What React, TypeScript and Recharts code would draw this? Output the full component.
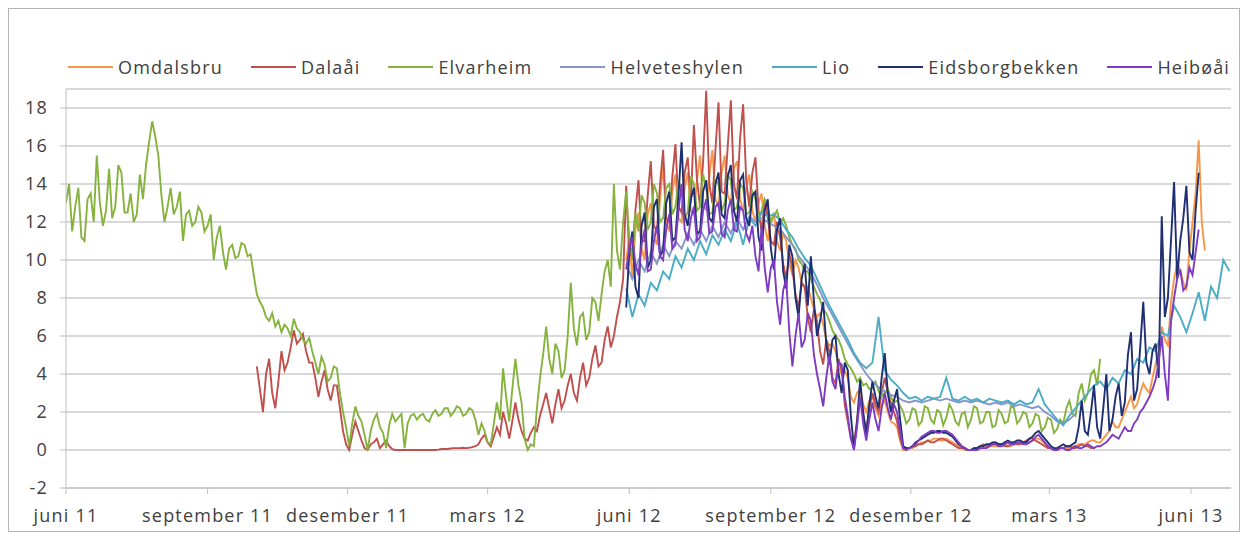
import React from "react";
import { CartesianGrid, Line, LineChart, XAxis, YAxis } from "recharts";

// day 0 = 1 June 2011
const X_MAX_DAY = 757;
const ROW_STEP = 2;
const TICK_DAYS = [0, 92, 183, 274, 366, 458, 549, 639, 731];
const TICK_LABELS = [
  "juni 11",
  "september 11",
  "desember 11",
  "mars 12",
  "juni 12",
  "september 12",
  "desember 12",
  "mars 13",
  "juni 13",
];
const Y_TICKS = [-2, 0, 2, 4, 6, 8, 10, 12, 14, 16, 18];

// values every 2 days from day 364
const omdalsbru = [
  10, 11.2, 9, 11.6, 12.5, 10.6, 10, 12.4, 13, 11.2, 10.8, 13.2, 15, 12.0, 11.5, 13.6, 14.5, 12.2,
  12, 13.8, 14.6, 12.6, 12.4, 14.2, 15.5, 13.0, 12.6, 14.4, 15.8, 13.2, 12.8, 14.6, 15.5, 13.4, 13, 14.8, 15.2, 13.2,
  12.6, 13.8, 14.5, 12.6, 12, 13.0, 13.5, 11.8, 11, 12.0, 12.5, 11.0, 10.5, 11.4, 11, 9.8, 9.2, 10.0, 9.6, 8.8,
  8.5, 8.6, 8, 7.4, 7, 7.2, 6.6, 5.8, 5.5, 5.6, 5.2, 4.4, 4.0, 4.2, 3.8, 2.8, 2.5, 3.0, 3.2, 2.4,
  2.0, 2.6, 2.8, 2.2, 1.8, 2.4, 2.6, 2.0, 1.5, 1.4, 1.2, 0.5, 0.0, 0.0, 0.1, 0.1, 0.2, 0.3, 0.4, 0.4,
  0.5, 0.5, 0.6, 0.6, 0.5, 0.5, 0.6, 0.5, 0.4, 0.3, 0.2, 0.1, 0.0, 0.0, 0.0, 0.0, 0.1, 0.1, 0.1, 0.1,
  0.2, 0.2, 0.2, 0.2, 0.3, 0.3, 0.2, 0.2, 0.3, 0.3, 0.4, 0.4, 0.3, 0.4, 0.5, 0.6, 0.6, 0.5, 0.3, 0.2,
  0.1, 0.0, 0.0, 0.1, 0.1, 0.1, 0.1, 0.2, 0.2, 0.3, 0.3, 0.3, 0.4, 0.5, 0.5, 0.4, 0.4, 0.6, 0.8, 1.0,
  1.5, 1.2, 1.2, 1.6, 2.0, 2.4, 2.8, 2.2, 2.4, 3.0, 3.5, 3.2, 3.0, 3.8, 4.5, 5.2, 6.5, 5.8, 5.5, 7.8,
  9.0, 9.8, 9.5, 8.8, 8.5, 10.5, 12.0, 13.5, 16.3, 12.0, 10.5,
];

// values every 2 days from day 124
const dalaai = [
  4.4, 3.2, 2.0, 4.0, 4.8, 3.0, 2.2, 3.6, 5.2, 4.2, 4.6, 5.4, 6.3, 5.6, 5.8, 6.1, 5.2, 4.6,
  4.6, 3.8, 2.8, 3.6, 4.2, 3.2, 2.6, 3.4, 3.4, 2.2, 1.0, 0.3, 0, 0.8, 1.5, 1.0, 0.5, 0.1, 0, 0.3,
  0.4, 0.6, 0.1, 0.3, 0.5, 0.2, 0.05, 0, 0, 0, 0, 0, 0, 0, 0, 0, 0, 0, 0, 0,
  0, 0.02, 0.05, 0.05, 0.05, 0.08, 0.1, 0.1, 0.1, 0.12, 0.1, 0.12, 0.15, 0.2, 0.3, 0.6, 0.8, 0.4, 0.2, 0.7,
  1.2, 0.8, 2.0, 1.4, 0.6, 1.5, 2.5, 1.6, 1.0, 0.6, 0.5, 0.9, 1.2, 1.0, 1.8, 2.4, 3.0, 2.2, 1.4, 2.4,
  3.2, 2.2, 2.6, 3.4, 4.0, 3.0, 2.6, 3.8, 4.6, 3.4, 3.8, 4.8, 5.5, 4.4, 4.6, 5.8, 6.5, 5.4, 6.0, 7.0,
  7.8, 9.0, 13.9, 10.2, 10.5, 12.6, 14.2, 11.0, 11, 13.4, 15.2, 11.8, 11.5, 14.0, 15.8, 12.2, 12, 14.4, 16.1, 12.8,
  12.5, 14.6, 15.4, 13.0, 17.1, 14.2, 12.8, 15.2, 18.9, 14.0, 13, 15.8, 18.3, 13.6, 13.5, 16.0, 18.4, 14.0, 13.2, 16.4,
  18.2, 14.2, 12.8, 14.6, 15.4, 12.6, 11.5, 13.2, 12.2, 11.0, 10.8, 12.0, 11.2, 9.8, 9, 10.4, 9.5, 8.2, 7.5, 8.8,
  8.6, 7.0, 6.2, 7.4, 6.8, 5.2, 4.5, 5.8, 5.2, 3.8, 3.5, 4.8, 4.2, 2.4, 1.5, 0.6, 0.3, 1.6, 2.8, 1.8,
  1.0, 2.2, 3.0, 2.4, 2.0, 3.0, 3.8, 3.0, 2.5, 2.0, 1.5, 0.6, 0.1, 0.1, 0.1, 0.2, 0.2, 0.3, 0.3, 0.4,
  0.5, 0.4, 0.4, 0.5, 0.6, 0.6, 0.5, 0.4, 0.3, 0.2, 0.1, 0.1, 0.1, 0.0, 0.0, 0.1, 0.1, 0.2, 0.3, 0.2,
  0.2, 0.3, 0.4, 0.3, 0.3, 0.2, 0.2, 0.3, 0.4, 0.3, 0.3, 0.4, 0.5, 0.6, 0.6, 0.5, 0.4, 0.3, 0.2, 0.1,
  0.1, 0.0, 0.0, 0.1, 0.1, 0.2, 0.2, 0.1, 0.1, 0.2, 0.3, 0.2, 0.2, 0.1, 0.1,
];

// values every 2 days from day 0
const elvarheim = [
  13, 14, 11.5, 12.8, 13.8, 11.2, 11, 13.2, 13.5, 12, 15.5, 13, 11.8, 12.6, 14.8, 12.2, 12.8, 15, 14.6, 12.5,
  12.5, 13.5, 12, 12.4, 14.5, 13.2, 15, 16.2, 17.3, 16.5, 15.5, 13.4, 12, 12.8, 13.8, 12.4, 12.8, 13.6, 11, 12.4,
  12.6, 11.8, 12, 12.8, 12.5, 11.5, 11.8, 12.4, 10, 11.2, 11.8, 10.4, 9.5, 10.6, 10.8, 10.1, 10.2, 10.9, 10.8, 10.2,
  10.3, 9.2, 8.2, 7.8, 7.5, 7.0, 6.8, 7.2, 6.5, 6.8, 6.2, 6.6, 6.4, 6.0, 6.9, 6.4, 6.2, 5.8, 5.6, 5.9,
  5.2, 4.6, 4, 4.9, 4.5, 3.6, 3.8, 4.4, 4.3, 3.0, 2, 1.2, 0.2, 1.4, 2.3, 1.8, 1.5, 0.8, 0, 1.0,
  1.6, 1.9, 1.2, 0.9, 0.1, 1.3, 1.9, 1.5, 1.7, 1.9, 0.1, 1.4, 1.8, 1.9, 1.6, 1.8, 1.9, 1.6, 1.5, 1.9,
  2.1, 1.8, 1.9, 2.2, 2.2, 1.8, 2, 2.3, 2.2, 1.8, 1.9, 2.2, 2.1, 1.6, 0.8, 1.4, 1.0, 0.4, 0.3, 1.4,
  2.5, 1.6, 4.3, 2.8, 1.5, 3.2, 4.8, 3.4, 2.5, 0.6, 0, 0.3, 0.2, 2.2, 3.8, 5.0, 6.5, 4.8, 4, 5.6,
  5.2, 3.8, 4.2, 6.0, 8.8, 6.4, 5.5, 7.0, 7.2, 5.8, 6.2, 8.0, 7.8, 6.8, 8.2, 9.4, 10, 8.6, 14, 10.5,
  9.5, 12, 13.6, 11.2, 10, 12.5, 11.5, 13.4, 13, 11.6, 12, 14, 13.5, 12, 12.2, 13.8, 14, 12.4, 12.8, 14.2,
  13.6, 12.2, 12.5, 14.4, 14, 12.6, 12.8, 14.5, 13.8, 12.4, 12.5, 14.2, 14, 12.6, 13, 14.5, 14.2, 12.6, 12.8, 14,
  13.8, 12.4, 12.5, 13.6, 13.2, 12.2, 12.6, 13.2, 12.8, 12.0, 12.3, 12.6, 12, 12.2, 11.8, 11.2, 10.8, 10.6, 10, 9.8,
  9.4, 9.4, 9, 8.6, 8.2, 7.9, 7.4, 7.2, 6.8, 6.3, 6.0, 5.8, 5.4, 4.8, 4.5, 4.3, 4, 3.6, 3.8, 3.4,
  3.5, 3.2, 3.3, 3.6, 3.1, 2.8, 3, 3.2, 2.8, 2.5, 2.6, 2.3, 2.0, 1.4, 1.6, 2.2, 2.1, 1.3, 1.5, 2.3,
  2.2, 1.6, 1.4, 2.1, 2.0, 1.3, 1.7, 2.4, 2.1, 1.5, 1.3, 1.9, 2.0, 1.2, 1.6, 2.3, 2.2, 1.4, 1.5, 2.0,
  2.0, 1.2, 1.3, 2.1, 1.9, 1.4, 1.5, 2.3, 2.2, 1.4, 1.6, 2.0, 1.9, 1.2, 1.4, 1.9, 1.8, 1.0, 1.2, 1.7,
  1.6, 0.9, 1.1, 1.6, 1.4, 2.2, 2.6, 1.9, 1.8, 3.0, 3.5, 2.6, 3.0, 4.0, 4.2, 3.4, 4.8,
];

// values every 4 days from day 364
const helveteshylen = [
  9.8, 9.0, 10.0, 9.4, 10.4, 9.8, 10.8, 10.2, 11.0,
  10.6, 11.4, 10.8, 11.6, 11.0, 11.8, 11.2, 12.0, 11.4, 12.2,
  11.6, 12.3, 12.0, 12.2, 12.0, 11.8, 11.6, 11.2, 10.8, 10.2,
  9.8, 9.3, 8.7, 8.0, 7.4, 6.8, 6.2, 5.6, 5.0, 4.5,
  4.0, 3.6, 3.3, 3.1, 2.9, 2.8, 2.6, 2.5, 2.6, 2.5,
  2.6, 2.7, 2.6, 2.7, 2.6, 2.5, 2.6, 2.5, 2.6, 2.5,
  2.4, 2.5, 2.4, 2.5, 2.3, 2.4, 2.3, 2.2, 2.3, 2.0,
  1.8, 1.5, 1.4, 1.6, 1.9,
];

// values every 4 days from day 364
const lio = [
  8.5, 7.0, 8.2, 7.6, 8.8, 8.4, 9.4, 9.0, 10.2,
  9.6, 10.6, 10.0, 11, 10.3, 11.3, 10.8, 11.6, 11, 12,
  10.8, 12.2, 11.8, 12.5, 12.3, 12.4, 12.1, 11.6, 11.2, 10.6,
  10.1, 9.7, 9.0, 8.3, 7.6, 7.0, 6.4, 5.8, 5.1, 4.6,
  4.3, 4.6, 7.0, 4.2, 3.7, 3.4, 3.0, 2.7, 2.8, 2.6,
  2.8, 2.7, 2.8, 3.8, 2.7, 2.6, 2.8, 2.6, 2.7, 2.5,
  2.7, 2.6, 2.5, 2.6, 2.4, 2.6, 2.4, 2.5, 3.2, 2.4,
  2.0, 1.6, 1.3, 1.8, 2.2, 2.6, 3.0, 3.4, 3.6, 3.2,
  3.8, 3.5, 4.2, 4.0, 4.8, 4.6, 5.4, 5.2, 6.2, 6.0,
  7.6, 7.0, 6.2, 7.2, 8.3, 6.8, 8.6, 8.0, 10.0, 9.4,
];

// values every 2 days from day 364
const eidsborgbekken = [
  7.5, 10.4, 11.5, 8.6, 8, 11.8, 12.5, 9.6, 10, 12.8, 13.2, 10.2, 10.5, 13.0, 13.6, 11.0, 11.2, 13.4,
  16.2, 12.4, 11.8, 13.2, 13.8, 11.4, 11.5, 13.6, 14.2, 12.2, 12, 14.0, 14.6, 12.4, 12.2, 14.4, 15, 12.6, 12, 14.2,
  14.5, 12.2, 11.8, 13.4, 13.6, 11.2, 10.5, 12.6, 13.2, 10.6, 9.5, 11.6, 12.2, 9.4, 8.5, 10.8, 10.2, 8.0, 7.0, 9.0,
  9.8, 7.6, 10.2, 7.8, 6.0, 6.8, 7.8, 5.6, 4.5, 5.8, 6.0, 4.0, 3.0, 4.6, 4.2, 1.8, 0.1, 1.4, 3.7, 2.0,
  0.8, 2.4, 3.6, 2.8, 2.2, 3.8, 5.1, 3.0, 2.0, 2.6, 3.2, 1.6, 0.2, 0.1, 0.1, 0.2, 0.4, 0.5, 0.6, 0.7,
  0.8, 0.9, 0.9, 1.0, 1.0, 0.9, 0.9, 0.8, 0.7, 0.5, 0.3, 0.2, 0.1, 0.0, 0.0, 0.1, 0.1, 0.2, 0.2, 0.3,
  0.3, 0.4, 0.4, 0.3, 0.3, 0.4, 0.5, 0.4, 0.4, 0.5, 0.5, 0.4, 0.4, 0.6, 0.7, 0.9, 1.0, 0.8, 0.6, 0.4,
  0.2, 0.1, 0.1, 0.2, 0.3, 0.2, 0.2, 0.3, 0.4, 1.2, 2.6, 1.0, 0.8, 2.0, 3.4, 1.2, 0.6, 2.2, 4.0, 1.0,
  1.6, 2.8, 3.5, 1.8, 2.5, 5.0, 6.2, 2.6, 3.2, 5.4, 7.8, 4.6, 4.0, 5.2, 5.6, 3.8, 12.3, 7.0, 8, 11.0,
  14.1, 9.0, 11, 12.2, 13.9, 10.4, 10, 12.6, 14.6,
];

// values every 2 days from day 364
const heiboai = [
  9.5, 10.6, 11.2, 9.8, 9.2, 10.8, 11.6, 9.4, 9.5, 11.0, 11.8, 10.2, 10, 11.6, 12.4, 10.6, 10.8, 12.6,
  14, 11.6, 11, 12.2, 12.8, 11.0, 11.2, 12.6, 13.2, 11.4, 11.5, 12.8, 13, 11.4, 11.2, 12.6, 13.2, 11.6, 11.5, 12.8,
  12.6, 11.4, 11, 11.8, 10.2, 9.4, 11.8, 9.6, 8.3, 9.6, 10, 7.8, 6.6, 8.4, 9.0, 6.2, 4.4, 6.0, 7.2, 5.4,
  5.8, 7.2, 6.8, 5.0, 4.0, 3.2, 2.3, 3.8, 5.0, 3.6, 3.2, 4.6, 4.5, 2.8, 1.8, 0.6, 0.0, 1.2, 2.8, 1.4,
  0.5, 1.6, 2.5, 1.6, 1.0, 2.2, 3.0, 2.2, 1.6, 2.4, 2.0, 1.0, 0.1, 0.0, 0.1, 0.2, 0.3, 0.5, 0.7, 0.8,
  0.9, 1.0, 1.0, 0.9, 0.9, 1.0, 1.0, 0.9, 0.8, 0.6, 0.4, 0.2, 0.1, 0.0, 0.0, 0.0, 0.0, 0.1, 0.1, 0.1,
  0.2, 0.3, 0.3, 0.2, 0.2, 0.3, 0.4, 0.3, 0.3, 0.4, 0.4, 0.3, 0.3, 0.4, 0.5, 0.7, 0.8, 0.6, 0.4, 0.2,
  0.1, 0.0, 0.0, 0.1, 0.1, 0.0, 0.0, 0.1, 0.2, 0.1, 0.1, 0.2, 0.3, 0.2, 0.1, 0.2, 0.2, 0.3, 0.4, 0.6,
  0.8, 0.7, 0.6, 0.9, 1.2, 1.0, 1.0, 1.4, 1.6, 2.0, 2.2, 2.5, 2.8, 3.2, 3.7, 4.6, 6.0, 4.0, 2.6, 6.8,
  8.0, 9.0, 9.5, 8.4, 8.6, 9.6, 9.2, 10.4, 11.6,
];

const SERIES = [
  { key: "omdalsbru", name: "Omdalsbru", color: "#F79646", startDay: 364, step: 2, values: omdalsbru },
  { key: "dalaai", name: "Dalaåi", color: "#C0504D", startDay: 124, step: 2, values: dalaai },
  { key: "elvarheim", name: "Elvarheim", color: "#86B33E", startDay: 0, step: 2, values: elvarheim },
  { key: "helveteshylen", name: "Helveteshylen", color: "#8496CC", startDay: 364, step: 4, values: helveteshylen },
  { key: "lio", name: "Lio", color: "#4BACC6", startDay: 364, step: 4, values: lio },
  { key: "eidsborgbekken", name: "Eidsborgbekken", color: "#1F2F73", startDay: 364, step: 2, values: eidsborgbekken },
  { key: "heiboai", name: "Heibøåi", color: "#7D3CC1", startDay: 364, step: 2, values: heiboai },
];

const lastDay = Math.max(...SERIES.map((s) => s.startDay + (s.values.length - 1) * s.step));
const data: Record<string, number | null>[] = [];
for (let day = 0; day <= lastDay; day += ROW_STEP) {
  const row: Record<string, number | null> = { day };
  SERIES.forEach((s) => {
    const offset = day - s.startDay;
    const k = offset / s.step;
    row[s.key] = offset >= 0 && offset % s.step === 0 && k < s.values.length ? s.values[k] : null;
  });
  data.push(row);
}

const TEXT = "#404040";
const AXIS = "#bfbfbf";
const FONT_SIZE = 18;

function ChartLegend() {
  return (
    <div
      style={{
        position: "absolute",
        top: 48,
        left: 59,
        display: "flex",
        alignItems: "center",
        gap: 28,
        fontSize: FONT_SIZE,
        lineHeight: "20px",
        color: TEXT,
        whiteSpace: "nowrap",
      }}
    >
      {SERIES.map((s) => (
        <div key={s.key} style={{ display: "flex", alignItems: "center" }}>
          <span style={{ display: "inline-block", width: 45, borderTop: `2px solid ${s.color}`, marginRight: 5 }} />
          <span>{s.name}</span>
        </div>
      ))}
    </div>
  );
}

export default function App() {
  return (
    <div
      style={{
        position: "relative",
        width: 1230,
        height: 522,
        border: "1px solid #b3b3b3",
        background: "#fff",
        fontFamily: "'Open Sans', sans-serif",
        letterSpacing: "1.2px",
      }}
    >
      <ChartLegend />
      <LineChart width={1230} height={522} data={data} margin={{ top: 80, right: 8, bottom: 13, left: 0 }}>
        <CartesianGrid vertical={false} stroke="#cccccc" strokeWidth={1.5} />
        <XAxis
          dataKey="day"
          type="number"
          domain={[0, X_MAX_DAY]}
          allowDataOverflow
          ticks={TICK_DAYS}
          interval={0}
          tickFormatter={(v) => TICK_LABELS[TICK_DAYS.indexOf(v)] ?? ""}
          height={30}
          tickSize={6}
          tickMargin={15}
          stroke={AXIS}
          tick={{ fill: TEXT, fontSize: FONT_SIZE }}
        />
        <YAxis
          type="number"
          domain={[-2, 19]}
          allowDataOverflow
          ticks={Y_TICKS}
          interval={0}
          width={57}
          tickSize={6}
          tickMargin={12}
          stroke={AXIS}
          tick={{ fill: TEXT, fontSize: FONT_SIZE }}
        />
        {SERIES.map((s) => (
          <Line
            key={s.key}
            type="linear"
            dataKey={s.key}
            name={s.name}
            stroke={s.color}
            strokeWidth={1.9}
            dot={false}
            activeDot={false}
            connectNulls
            isAnimationActive={false}
          />
        ))}
      </LineChart>
    </div>
  );
}
